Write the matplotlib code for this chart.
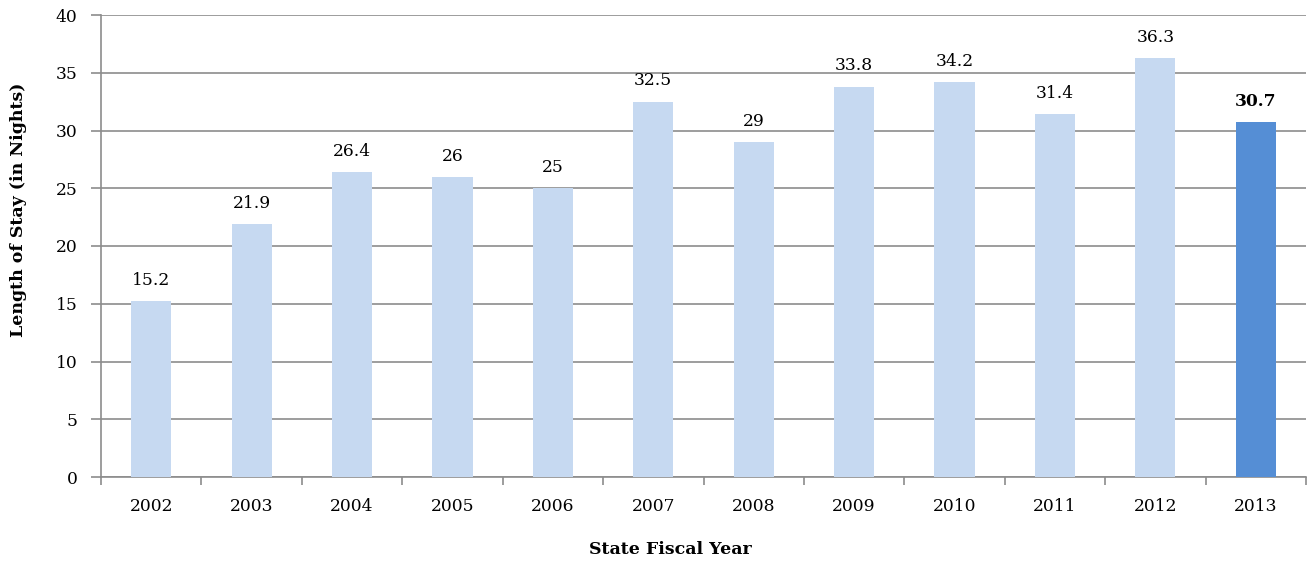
import matplotlib
matplotlib.use("Agg")
import matplotlib.pyplot as plt
import numpy as np

years = ["2002", "2003", "2004", "2005", "2006", "2007", "2008", "2009", "2010", "2011", "2012", "2013"]
values = [15.2, 21.9, 26.4, 26, 25, 32.5, 29, 33.8, 34.2, 31.4, 36.3, 30.7]
labels = ["15.2", "21.9", "26.4", "26", "25", "32.5", "29", "33.8", "34.2", "31.4", "36.3", "30.7"]

plt.rcParams['font.family'] = ['DejaVu Serif']

fig = plt.figure(figsize=(13.07, 5.62), dpi=100)
ax = fig.add_axes([101/1307, 85/562, 1205/1307, 462/562])

x = np.arange(len(years))
colors = ["#C6D9F1"] * (len(years) - 1) + ["#558ED5"]
ax.bar(x, values, width=0.4, color=colors, zorder=3)

for i, (v, lab) in enumerate(zip(values, labels)):
    bold = i == len(years) - 1
    ax.text(i, v + 1.05, lab, ha="center", va="bottom", fontsize=12.3,
            fontweight="bold" if bold else "normal", color="black")

ax.set_xlim(-0.5, len(years) - 0.5)
ax.set_ylim(0, 40)
ax.set_yticks(np.arange(0, 41, 5))
ax.yaxis.grid(True, color="#8C8C8C", linewidth=1.2, zorder=0)
ax.set_axisbelow(True)

ax.set_xticks(x)
ax.set_xticklabels(years, fontsize=12.3)
ax.set_xticks(np.arange(-0.5, len(years), 1), minor=True)
ax.tick_params(axis="x", which="major", length=0, pad=15)
ax.tick_params(axis="x", which="minor", length=6, width=1.2, color="#8C8C8C", direction="out")
ax.tick_params(axis="y", length=7, width=1.2, color="#8C8C8C", direction="out", labelsize=12.3, pad=10)

for s in ["top", "right"]:
    ax.spines[s].set_visible(False)
for s in ["left", "bottom"]:
    ax.spines[s].set_color("#8C8C8C")
    ax.spines[s].set_linewidth(1.2)

fig.text(670/1307, 1 - 549/562, "State Fiscal Year", fontsize=12.5, fontweight="bold",
         ha="center", va="center")
fig.text(19/1307, 1 - 210/562, "Length of Stay (in Nights)", fontsize=12.5, fontweight="bold",
         ha="center", va="center", rotation=90)

fig.savefig("out.png", dpi=100)
